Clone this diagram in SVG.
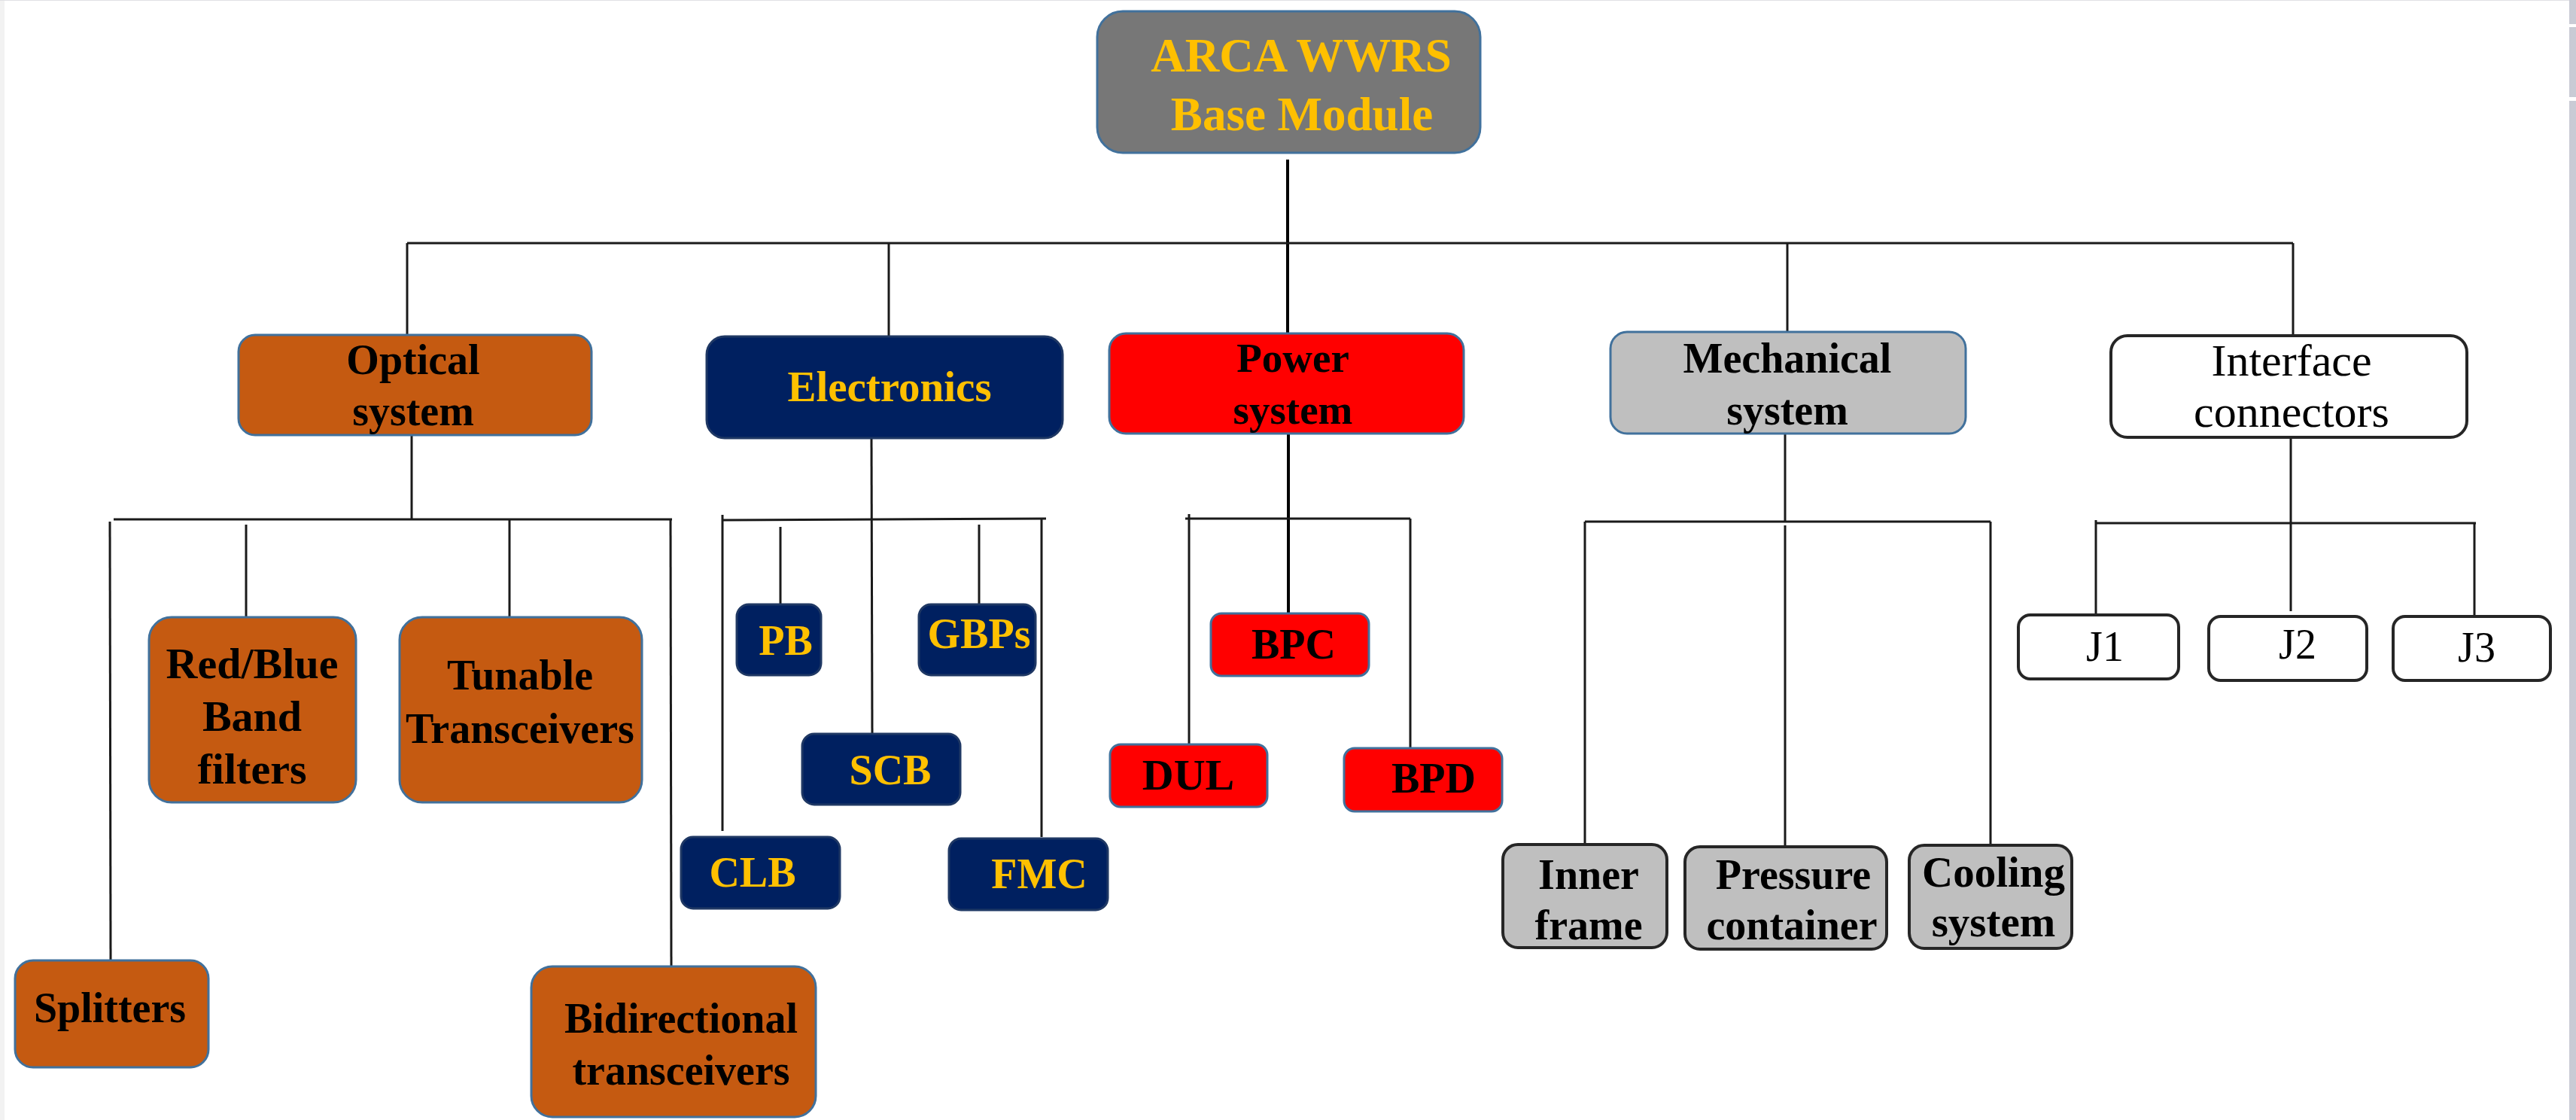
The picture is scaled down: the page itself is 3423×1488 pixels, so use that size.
<svg xmlns="http://www.w3.org/2000/svg" width="3423" height="1488" viewBox="0 0 3423 1488">
<style>
  .t { font-family: "Liberation Serif", "Times New Roman", serif; text-anchor: middle; }
  .b { font-weight: bold; }
  .gold { fill: #FFC000; }
  .blk { fill: #000000; }
  .conn { stroke: #1a1a1a; stroke-width: 3; fill: none; }
  .main { stroke: #000000; stroke-width: 4; }
  .top { fill: #777777; stroke: #41719C; stroke-width: 3; }
  .orange { fill: #C55A11; stroke: #41719C; stroke-width: 3; }
  .navy { fill: #002060; stroke: #1F3864; stroke-width: 3; }
  .red { fill: #FF0000; stroke: #41719C; stroke-width: 3; }
  .grayb { fill: #BFBFBF; stroke: #41719C; stroke-width: 3; }
  .grayk { fill: #BFBFBF; stroke: #262626; stroke-width: 4; }
  .white { fill: #FFFFFF; stroke: #262626; stroke-width: 4; }
</style>
<rect x="0" y="0" width="3423" height="1488" fill="#FFFFFF"/>
<rect x="0" y="0" width="6" height="1488" fill="#F2F2F2"/>
<rect x="0" y="0" width="3414" height="1" fill="#E0E0E4"/>
<rect x="3414" y="0" width="9" height="32" fill="#C9CBD5"/>
<rect x="3414" y="36" width="9" height="93" fill="#C9CBD5"/>
<rect x="3414" y="134" width="9" height="1354" fill="#C9CBD5"/>

<g id="connectors">
  <line class="conn main" x1="1711" y1="212" x2="1711" y2="442"/>
  <line class="conn" x1="541" y1="323" x2="3047" y2="323"/>
  <line class="conn" x1="541" y1="323" x2="541" y2="445"/>
  <line class="conn" x1="1181" y1="323" x2="1181" y2="447"/>
  <line class="conn" x1="2375" y1="323" x2="2375" y2="441"/>
  <line class="conn" x1="3047" y1="323" x2="3047" y2="446"/>

  <line class="conn" x1="547" y1="565" x2="547" y2="690"/>
  <line class="conn" x1="151" y1="690" x2="893" y2="690"/>
  <line class="conn" x1="146" y1="693" x2="147" y2="1276"/>
  <line class="conn" x1="327" y1="697" x2="327" y2="820"/>
  <line class="conn" x1="677" y1="690" x2="677" y2="820"/>
  <line class="conn" x1="891" y1="690" x2="892" y2="1284"/>

  <line class="conn" x1="1158" y1="582" x2="1159" y2="975"/>
  <line class="conn" x1="960" y1="691" x2="1390" y2="689"/>
  <line class="conn" x1="960" y1="684" x2="960" y2="1104"/>
  <line class="conn" x1="1037" y1="700" x2="1037" y2="805"/>
  <line class="conn" x1="1301" y1="697" x2="1301" y2="818"/>
  <line class="conn" x1="1384" y1="689" x2="1384" y2="1112"/>

  <line class="conn main" x1="1712" y1="563" x2="1712" y2="815"/>
  <line class="conn" x1="1575" y1="689" x2="1874" y2="689"/>
  <line class="conn" x1="1580" y1="683" x2="1580" y2="989"/>
  <line class="conn" x1="1874" y1="689" x2="1874" y2="994"/>

  <line class="conn" x1="2372" y1="572" x2="2372" y2="693"/>
  <line class="conn" x1="2106" y1="693" x2="2645" y2="693"/>
  <line class="conn" x1="2106" y1="693" x2="2106" y2="1122"/>
  <line class="conn" x1="2372" y1="698" x2="2372" y2="1125"/>
  <line class="conn" x1="2645" y1="693" x2="2645" y2="1123"/>

  <line class="conn" x1="3044" y1="565" x2="3044" y2="812"/>
  <line class="conn" x1="2785" y1="695" x2="3290" y2="695"/>
  <line class="conn" x1="2785" y1="691" x2="2785" y2="817"/>
  <line class="conn" x1="3288" y1="695" x2="3288" y2="819"/>
</g>

<g id="base-module">
  <rect class="top" x="1458" y="15" width="509" height="188" rx="34"/>
  <text class="t b gold" x="1729" y="95" font-size="63">ARCA WWRS</text>
  <text class="t b gold" x="1730" y="173" font-size="63">Base Module</text>
</g>

<g id="optical-system">
  <rect class="orange" x="317" y="445" width="469" height="133" rx="22"/>
  <text class="t b blk" x="549" y="497" font-size="56">Optical</text>
  <text class="t b blk" x="549" y="565" font-size="56">system</text>
</g>
<g id="electronics">
  <rect class="navy" x="939" y="447" width="473" height="135" rx="24"/>
  <text class="t b gold" x="1182" y="533" font-size="57">Electronics</text>
</g>
<g id="power-system">
  <rect class="red" x="1474" y="443" width="471" height="133" rx="22"/>
  <text class="t b blk" x="1718" y="494" font-size="55">Power</text>
  <text class="t b blk" x="1718" y="563" font-size="55">system</text>
</g>
<g id="mechanical-system">
  <rect class="grayb" x="2140" y="441" width="472" height="135" rx="22"/>
  <text class="t b blk" x="2375" y="495" font-size="56">Mechanical</text>
  <text class="t b blk" x="2375" y="564" font-size="56">system</text>
</g>
<g id="interface-connectors">
  <rect class="white" x="2805" y="446" width="473" height="135" rx="22"/>
  <text class="t blk" x="3045" y="499" font-size="60">Interface</text>
  <text class="t blk" x="3045" y="567" font-size="60">connectors</text>
</g>

<g id="red-blue-band-filters">
  <rect class="orange" x="198" y="820" width="275" height="246" rx="30"/>
  <text class="t b blk" x="335" y="901" font-size="58">Red/Blue</text>
  <text class="t b blk" x="335" y="971" font-size="58">Band</text>
  <text class="t b blk" x="335" y="1041" font-size="58">filters</text>
</g>
<g id="tunable-transceivers">
  <rect class="orange" x="531" y="820" width="322" height="246" rx="30"/>
  <text class="t b blk" x="691" y="916" font-size="56">Tunable</text>
  <text class="t b blk" x="691" y="987" font-size="56">Transceivers</text>
</g>
<g id="splitters">
  <rect class="orange" x="20" y="1276" width="257" height="142" rx="24"/>
  <text class="t b blk" x="146" y="1358" font-size="56">Splitters</text>
</g>
<g id="bidirectional-transceivers">
  <rect class="orange" x="706" y="1284" width="378" height="200" rx="28"/>
  <text class="t b blk" x="905" y="1372" font-size="56">Bidirectional</text>
  <text class="t b blk" x="905" y="1441" font-size="56">transceivers</text>
</g>

<g id="pb">
  <rect class="navy" x="979" y="803" width="112" height="94" rx="16"/>
  <text class="t b gold" x="1044" y="870" font-size="56">PB</text>
</g>
<g id="gbps">
  <rect class="navy" x="1221" y="803" width="155" height="94" rx="16"/>
  <text class="t b gold" x="1301" y="861" font-size="56">GBPs</text>
</g>
<g id="scb">
  <rect class="navy" x="1066" y="975" width="210" height="94" rx="16"/>
  <text class="t b gold" x="1183" y="1042" font-size="56">SCB</text>
</g>
<g id="clb">
  <rect class="navy" x="905" y="1112" width="211" height="95" rx="16"/>
  <text class="t b gold" x="1000" y="1178" font-size="56">CLB</text>
</g>
<g id="fmc">
  <rect class="navy" x="1261" y="1114" width="211" height="95" rx="16"/>
  <text class="t b gold" x="1381" y="1180" font-size="56">FMC</text>
</g>

<g id="bpc">
  <rect class="red" x="1609" y="815" width="210" height="83" rx="14"/>
  <text class="t b blk" x="1719" y="875" font-size="56">BPC</text>
</g>
<g id="dul">
  <rect class="red" x="1475" y="989" width="209" height="83" rx="14"/>
  <text class="t b blk" x="1579" y="1049" font-size="58">DUL</text>
</g>
<g id="bpd">
  <rect class="red" x="1786" y="994" width="210" height="84" rx="14"/>
  <text class="t b blk" x="1905" y="1053" font-size="56">BPD</text>
</g>

<g id="inner-frame">
  <rect class="grayk" x="1997" y="1122" width="218" height="137" rx="20"/>
  <text class="t b blk" x="2111" y="1181" font-size="56">Inner</text>
  <text class="t b blk" x="2111" y="1248" font-size="56">frame</text>
</g>
<g id="pressure-container">
  <rect class="grayk" x="2239" y="1125" width="268" height="136" rx="20"/>
  <text class="t b blk" x="2383" y="1181" font-size="56">Pressure</text>
  <text class="t b blk" x="2381" y="1248" font-size="56">container</text>
</g>
<g id="cooling-system">
  <rect class="grayk" x="2537" y="1123" width="216" height="137" rx="20"/>
  <text class="t b blk" x="2649" y="1178" font-size="57">Cooling</text>
  <text class="t b blk" x="2649" y="1244" font-size="57">system</text>
</g>

<g id="j1">
  <rect class="white" x="2682" y="817" width="213" height="85" rx="16"/>
  <text class="t blk" x="2797" y="878" font-size="56">J1</text>
</g>
<g id="j2">
  <rect class="white" x="2935" y="819" width="210" height="85" rx="16"/>
  <text class="t blk" x="3053" y="875" font-size="56">J2</text>
</g>
<g id="j3">
  <rect class="white" x="3180" y="819" width="209" height="85" rx="16"/>
  <text class="t blk" x="3291" y="879" font-size="56">J3</text>
</g>
</svg>
